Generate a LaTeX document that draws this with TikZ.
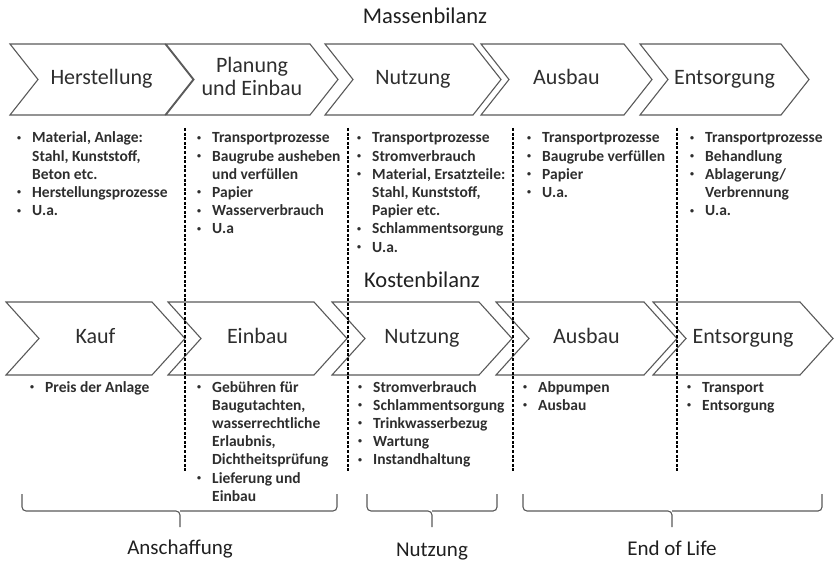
\documentclass[tikz,border=0pt]{standalone}
\usepackage{fontspec}
\setmainfont{Carlito}
\usepackage{xcolor}
\usetikzlibrary{calc}
\definecolor{chevgray}{HTML}{595959}
\definecolor{txtgray}{HTML}{2E2E2E}
\tikzset{
  chev/.style={draw=chevgray, line width=1.1pt, line join=miter},
  chevlabel/.style={text=txtgray, font=\fontsize{22}{23}\selectfont, align=center,
    execute at begin node=\strut, execute at end node=\strut},
  title/.style={text=black!88, font=\fontsize{22.5}{24}\selectfont},
  phase/.style={text=black!88, font=\fontsize{21}{23}\selectfont},
  lst/.style={text=txtgray, font=\bfseries\fontsize{15.5}{18.2}\selectfont, inner sep=0pt, anchor=base west},
  divider/.style={line width=1.2pt, dash pattern=on 3pt off 1.6pt},
  bracket/.style={draw=chevgray, line width=1.1pt, rounded corners=4pt},
}
\newcommand{\bul}{\hspace*{1pt}\raisebox{0.35ex}{\fontsize{8}{8}\selectfont\textbullet}}

\begin{document}
\begin{tikzpicture}[x=1pt, y=-1pt]
    \useasboundingbox (0,0) rectangle (834,561);

    % Titles
    \node[title] (mass) at (425,16) {Massenbilanz};
    \node[title] (kost) at (422,280) {Kostenbilanz};

    % Upper chevrons (Massenbilanz)
    \foreach \l/\r/\name/\txt in {10/165/mherst/Herstellung, 166/310/mplan/{Planung\\und Einbau},
        325/473/mnutz/Nutzung, 481/624/mausb/Ausbau, 640/781/mentsg/Entsorgung}
    {
        \draw[chev] (\l,44) -- (\r,44) -- ({\r+28},79.5) -- (\r,115) -- (\l,115) -- ({\l+28},79.5) -- cycle;
        \node[chevlabel] (\name) at ({(\l+\r+28)/2},79.5) {\txt};
    }

    % Lower chevrons (Kostenbilanz)
    \foreach \l/\r/\name/\txt in {6/152/kkauf/Kauf, 168/314/keinb/Einbau,
        332/479/knutz/Nutzung, 496/644/kausb/Ausbau, 653/800/kentsg/Entsorgung}
    {
        \draw[chev] (\l,302) -- (\r,302) -- ({\r+33},338.5) -- (\r,375) -- (\l,375) -- ({\l+33},338.5) -- cycle;
        \node[chevlabel] (\name) at ({(\l+\r+33)/2},338.5) {\txt};
    }

    % Dividers
    \foreach \x in {185,348,513,677}
        \draw[divider] (\x,128) -- (\x,472);

    % Lists Massenbilanz
    \node[lst] (mlist1) at (16,143) {\begin{tabular}[t]{@{}p{16pt}@{}l@{}}
        \bul & Material, Anlage:\\ & Stahl, Kunststoff,\\ & Beton etc.\\
        \bul & Herstellungsprozesse\\ \bul & U.a.
    \end{tabular}};
    \node[lst] (mlist2) at (196,143) {\begin{tabular}[t]{@{}p{16pt}@{}l@{}}
        \bul & Transportprozesse\\ \bul & Baugrube ausheben\\ & und verfüllen\\
        \bul & Papier\\ \bul & Wasserverbrauch\\ \bul & U.a
    \end{tabular}};
    \node[lst] (mlist3) at (356,143) {\begin{tabular}[t]{@{}p{16pt}@{}l@{}}
        \bul & Transportprozesse\\ \bul & Stromverbrauch\\ \bul & Material, Ersatzteile:\\
        & Stahl, Kunststoff,\\ & Papier etc.\\ \bul & Schlammentsorgung\\ \bul & U.a.
    \end{tabular}};
    \node[lst] (mlist4) at (526,143) {\begin{tabular}[t]{@{}p{16pt}@{}l@{}}
        \bul & Transportprozesse\\ \bul & Baugrube verfüllen\\ \bul & Papier\\ \bul & U.a.
    \end{tabular}};
    \node[lst] (mlist5) at (689,143) {\begin{tabular}[t]{@{}p{16pt}@{}l@{}}
        \bul & Transportprozesse\\ \bul & Behandlung\\ \bul & Ablagerung/\\
        & Verbrennung\\ \bul & U.a.
    \end{tabular}};

    % Lists Kostenbilanz
    \node[lst] (klist1) at (29,392) {\begin{tabular}[t]{@{}p{16pt}@{}l@{}}
        \bul & Preis der Anlage
    \end{tabular}};
    \node[lst] (klist2) at (196,392) {\begin{tabular}[t]{@{}p{16pt}@{}l@{}}
        \bul & Gebühren für\\ & Baugutachten,\\ & wasserrechtliche\\ & Erlaubnis,\\
        & Dichtheitsprüfung\\ \bul & Lieferung und\\ & Einbau
    \end{tabular}};
    \node[lst] (klist3) at (357,392) {\begin{tabular}[t]{@{}p{16pt}@{}l@{}}
        \bul & Stromverbrauch\\ \bul & Schlammentsorgung\\ \bul & Trinkwasserbezug\\
        \bul & Wartung\\ \bul & Instandhaltung
    \end{tabular}};
    \node[lst] (klist4) at (522,392) {\begin{tabular}[t]{@{}p{16pt}@{}l@{}}
        \bul & Abpumpen\\ \bul & Ausbau
    \end{tabular}};
    \node[lst] (klist5) at (686,392) {\begin{tabular}[t]{@{}p{16pt}@{}l@{}}
        \bul & Transport\\ \bul & Entsorgung
    \end{tabular}};

    % Brackets
    \foreach \l/\m/\r in {22/180/337, 367/432/497, 523/672/822}
    {
        \draw[bracket] (\l,494) |- (\m,511) -- (\m,527);
        \draw[bracket] (\r,494) |- (\m,511);
    }

    % Phases
    \node[phase] (anschaffung) at (180,549) {Anschaffung};
    \node[phase] (nutzung) at (432,552) {Nutzung};
    \node[phase] (eol) at (672,548) {End of Life};
\end{tikzpicture}
\end{document}
